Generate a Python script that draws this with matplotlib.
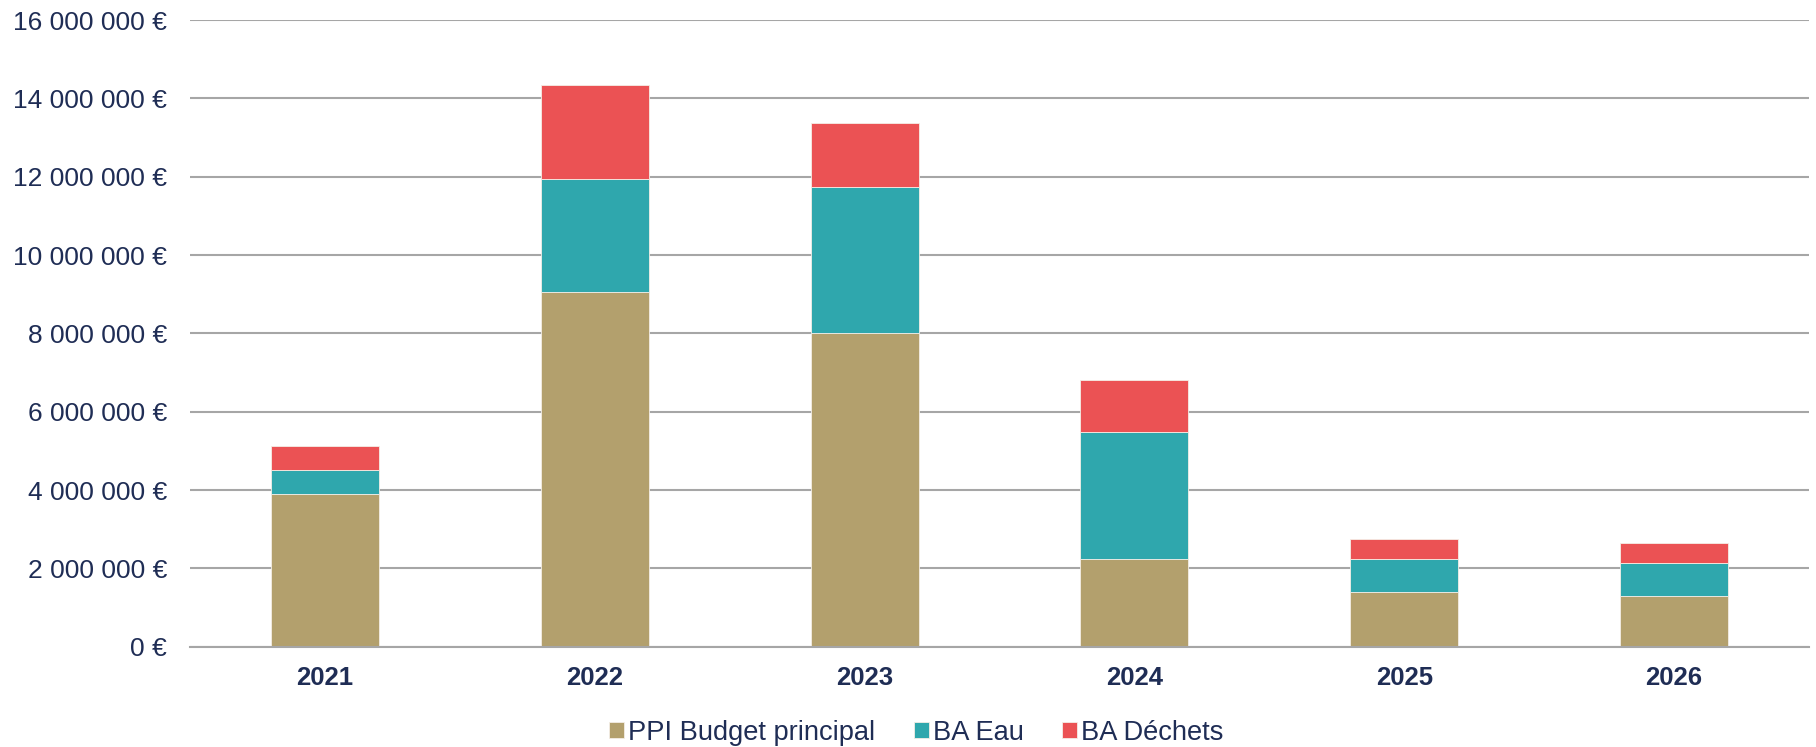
import matplotlib
matplotlib.use("Agg")
import matplotlib.pyplot as plt
import numpy as np
from matplotlib.ticker import FuncFormatter

# annual investment split by budget (euros)
years = ["2021", "2022", "2023", "2024", "2025", "2026"]
ppi_principal = [3_900_000, 9_060_000, 8_000_000, 2_230_000, 1_390_000, 1_290_000]
ba_eau = [610_000, 2_890_000, 3_730_000, 3_240_000, 840_000, 850_000]
ba_dechets = [610_000, 2_380_000, 1_630_000, 1_340_000, 510_000, 510_000]

series_names = ["PPI Budget principal", "BA Eau", "BA Déchets"]
colors = ["#B3A06D", "#2FA7AD", "#EB5254"]
navy = "#1F2D55"
grid_gray = "#A6A6A6"

plt.rcParams['font.family'] = ['Liberation Sans', 'DejaVu Sans']

fig = plt.figure(figsize=(18.16, 7.47), dpi=100)
ax = fig.add_axes([190/1816, 1 - 646.7/747, (1809 - 190)/1816, (646.7 - 20)/747])

x = np.arange(len(years))
bottom = np.zeros(len(years))
for vals, name, c in zip([ppi_principal, ba_eau, ba_dechets], series_names, colors):
  ax.bar(x, vals, width=0.4, bottom=bottom, color=c, label=name,
         edgecolor="#F4EEE6", linewidth=0.6, zorder=3)
  bottom += np.array(vals)

ax.set_xlim(-0.5, len(years) - 0.5)
ax.set_ylim(0, 16_000_000)
ax.set_yticks(np.arange(0, 16_000_001, 2_000_000))

def euro(v, pos):
  return "{:,.0f} €".format(v).replace(",", " ")

ax.yaxis.set_major_formatter(FuncFormatter(euro))
ax.set_xticks(x)
ax.set_xticklabels(years, fontweight="bold", fontsize=18.5, color=navy)
ax.tick_params(axis="x", length=0, pad=14)
ax.tick_params(axis="y", length=0, pad=16.5, labelsize=19, labelcolor=navy)

ax.grid(axis="y", color=grid_gray, linewidth=1.5, zorder=0)
ax.set_axisbelow(True)
for s in ["left", "right", "top"]:
  ax.spines[s].set_visible(False)
ax.spines["bottom"].set_color(grid_gray)
ax.spines["bottom"].set_linewidth(1.5)
ax.spines["bottom"].set_zorder(4)

leg = fig.legend(loc="lower center", bbox_to_anchor=(0.5045, 0.002), ncol=3,
                 frameon=False, fontsize=19.6, handlelength=0.55, handleheight=0.55,
                 handletextpad=0.15, columnspacing=1.4, borderaxespad=0, borderpad=0)
for t in leg.get_texts():
  t.set_color(navy)

fig.savefig("out.png", dpi=100)
